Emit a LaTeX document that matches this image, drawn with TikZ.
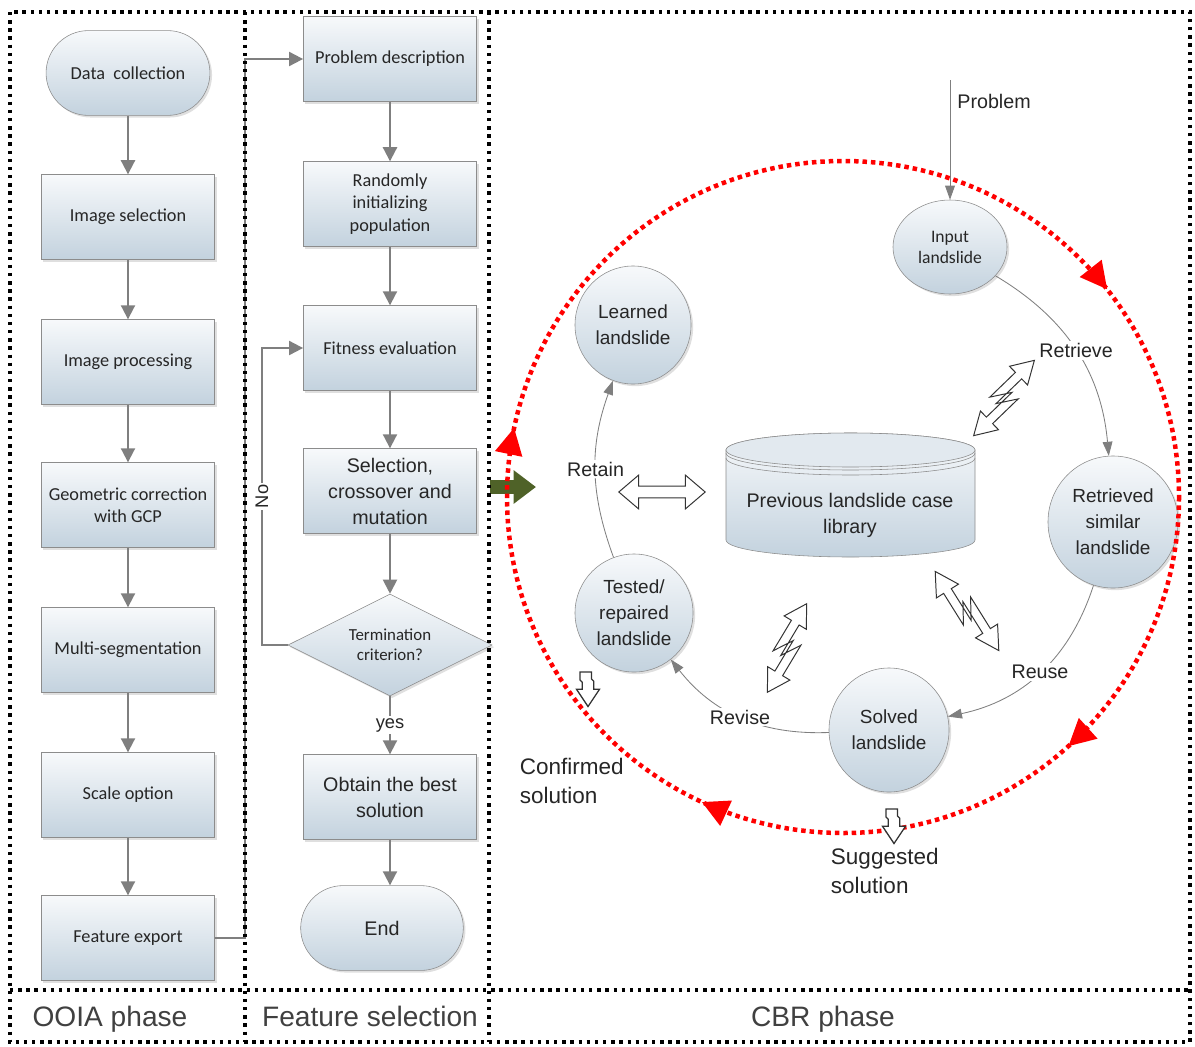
\documentclass[tikz,border=0pt]{standalone}
\usepackage{fontspec}
\setmainfont{Carlito}
\newfontfamily\arialf{Liberation Sans}
\usetikzlibrary{arrows.meta,shapes.geometric,shapes.misc,shadows,decorations.markings}

\definecolor{boxtop}{HTML}{F7F9FB}
\definecolor{boxbot}{HTML}{C3D2DE}
\definecolor{boxline}{HTML}{8C8C8C}
\definecolor{flowgray}{HTML}{7F7F7F}
\definecolor{phasegreen}{HTML}{4F6228}
\definecolor{txt}{HTML}{262626}

\tikzset{
  box/.style={draw=boxline, top color=boxtop, bottom color=boxbot,
    minimum width=4.33cm, minimum height=2.12cm, align=center, text=txt,
    font=\fontsize{13}{16}\selectfont,
    drop shadow={opacity=0.25, shadow xshift=1.5pt, shadow yshift=-1.5pt}},
  term/.style={box, rounded rectangle},
  decide/.style={box, diamond, aspect=2, minimum width=5.1cm, minimum height=2.55cm,
    inner sep=0pt, font=\fontsize{12}{14}\selectfont},
  sansbox/.style={font=\arialf\fontsize{14}{18.5}\selectfont},
  flow/.style={draw=flowgray, line width=1.4pt, -{Triangle[length=10pt,width=10pt]}},
  case/.style={box, ellipse, inner sep=0pt, font=\arialf\fontsize{13.5}{18.5}\selectfont},
  cbrflow/.style={draw=flowgray, line width=0.6pt, -{Triangle[length=10pt,width=7pt]}},
  lbl/.style={fill=white, inner sep=1.5pt, text=txt, font=\arialf\fontsize{14}{18}\selectfont},
  cbrtxt/.style={text=txt, align=left, font=\arialf\fontsize{16}{21}\selectfont},
  phase/.style={anchor=base, text=black!75, font=\arialf\fontsize{20}{24}\selectfont},
  frame/.style={line width=2.4pt, dash pattern=on 2.4pt off 3.4pt},
  hollowline/.style={draw=black!80, line width=0.7pt, fill=white},
  pics/dblarrow/.style={code={
    \draw[hollowline] (-48,#1) -- (-26,#1+13) -- (-26,#1+4.5) -- (1.6*#1,#1+4.5)
      -- (-1.6*#1,-#1+4.5) -- (26,-#1+4.5) -- (26,-#1+13) -- (48,-#1) -- (26,-#1-13)
      -- (26,-#1-4.5) -- (-1.6*#1,-#1-4.5) -- (1.6*#1,#1-4.5) -- (-26,#1-4.5)
      -- (-26,#1-13) -- cycle;
  }},
  pics/kinkdown/.style={code={
    \draw[hollowline, line width=0.9pt] (-7,0) -- (3,0) -- (3,6) -- (5,8) -- (5,15) -- (10,15)
      -- (0,30) -- (-10,15) -- (-5,15) -- (-5,9) -- (-7,7) -- cycle;
  }}
}

\begin{document}
\begin{tikzpicture}[x=0.025cm, y=-0.025cm]
  \useasboundingbox (0,0) rectangle (1195,1046);

  % OOIA phase
  \node[term] (dc) at (128,73) {Data\ \ collection};
  \node[box] (isel) at (128,217) {Image selection};
  \node[box] (iproc) at (128,362) {Image processing};
  \node[box] (geo) at (128,505) {Geometric correction\\with GCP};
  \node[box] (mseg) at (128,650) {Multi-segmentation};
  \node[box] (scale) at (128,795) {Scale option};
  \node[box] (fexp) at (128,938) {Feature export};

  % feature selection
  \node[box] (pdesc) at (390,59) {Problem description};
  \node[box] (init) at (390,204) {Randomly\\initializing\\population};
  \node[box] (fit) at (390,348) {Fitness evaluation};
  \node[box, sansbox] (sel) at (390,491) {Selection,\\crossover and\\mutation};
  \node[decide] (term) at (390,645) {Termination\\criterion?};
  \node[box, sansbox] (best) at (390,797) {Obtain the best\\solution};
  \node[term, sansbox, minimum width=4.3cm] (end) at (382,928) {End};

  \foreach \a/\b in {dc/isel,isel/iproc,iproc/geo,geo/mseg,mseg/scale,scale/fexp,
                     pdesc/init,init/fit,fit/sel,sel/term,best/end}
    \draw[flow] (\a.south) -- (\a.south |- \b.north);
  \draw[flow] (term.south) -- node[lbl, font=\arialf\fontsize{13}{16}\selectfont] {yes} (best.north);
  \draw[flow] (term.west) -- (262,645)
    -- node[lbl, rotate=90, font=\arialf\fontsize{13}{16}\selectfont] {No} (262,348) -- (fit.west);
  \coordinate (link) at (245,59);
  \draw[flow] (fexp.east) -| (link) -- (pdesc.west);

  % phase change arrow
  \coordinate (gs) at (490,487);
  \coordinate (ge) at (536,487);
  \draw[phasegreen, line width=10pt, -{Triangle[length=16pt,width=23pt]}] (gs) -- (ge);

  % CBR phase
  \draw[draw=boxline, top color=boxtop, bottom color=boxbot]
    (726,450) -- (726,540) arc[start angle=180, end angle=0, x radius=124.5, y radius=17]
    -- (975,450) arc[start angle=0, end angle=-180, x radius=124.5, y radius=17] -- cycle;
  \draw[draw=boxline, fill=boxtop!60!boxbot] (850.5,450) ellipse[x radius=124.5, y radius=17];
  \draw[draw=boxline] (726,453) arc[start angle=180, end angle=0, x radius=124.5, y radius=17];
  \draw[draw=boxline] (726,458) arc[start angle=180, end angle=0, x radius=124.5, y radius=17];
  \node[text=txt, align=center, font=\arialf\fontsize{14}{18.5}\selectfont] (db) at (850,515)
    {Previous landslide case\\library};

  \node[case, minimum width=2.85cm, minimum height=2.35cm, font=\fontsize{12.5}{15}\selectfont]
    (inp) at (950,247) {Input\\landslide};
  \node[case, minimum width=3.25cm, minimum height=3.3cm] (ret) at (1113,522)
    {Retrieved\\similar\\landslide};
  \node[case, minimum width=3.0cm, minimum height=3.1cm] (sol) at (889,730) {Solved\\landslide};
  \node[case, minimum width=2.95cm, minimum height=2.95cm] (tst) at (634,613)
    {Tested/\\repaired\\landslide};
  \node[case, minimum width=2.9cm, minimum height=2.95cm] (lrn) at (633,325) {Learned\\landslide};

  \coordinate (pin) at (950,80);
  \draw[cbrflow] (pin) -- (inp);
  \node[lbl, fill=none, anchor=west] (ptxt) at (955,101) {Problem};

  \draw[cbrflow] (inp) to[bend left=27] node[lbl] {Retrieve} (ret);
  \draw[cbrflow] (ret) to[bend left=30] node[lbl] {Reuse} (sol);
  \draw[cbrflow] (sol) to[bend left=27] node[lbl] {Revise} (tst);
  \draw[cbrflow] (tst) to[bend left=20] node[lbl] {Retain} (lrn);

  % cycle
  \coordinate (cyc) at (843,497);
  \draw[red, line width=3.2pt, dash pattern=on 3.2pt off 2.8pt,
    postaction={decorate, decoration={markings,
      mark=at position 0.133 with {\arrow{Triangle[length=19pt,width=19pt]}},
      mark=at position 0.319 with {\arrow{Triangle[length=19pt,width=19pt]}},
      mark=at position 0.533 with {\arrow{Triangle[length=19pt,width=19pt]}},
      mark=at position 0.894 with {\arrow{Triangle[length=19pt,width=19pt]}}}}]
    (cyc) circle[radius=336];

  \pic[rotate=44] at (1004,398) {dblarrow=6};
  \pic[xscale=0.9, yscale=1.3] at (662,492) {dblarrow=0};
  \pic[rotate=59] at (787,648) {dblarrow=6};
  \pic[rotate=122, xscale=1.05] at (967,611) {dblarrow=6};
  \pic[scale=1.15] at (588,672) {kinkdown};
  \pic[scale=1.15] at (894,809) {kinkdown};

  \node[cbrtxt, anchor=west] (conf) at (515,781) {Confirmed\\solution};
  \node[cbrtxt, anchor=west] (sugg) at (826,871) {Suggested\\solution};

  % phase frame
  \draw[frame] (10,12) rectangle (1190,1042);
  \draw[frame] (245,12) -- (245,1042) (489,12) -- (489,1042) (10,990) -- (1190,990);
  \node[phase] (p1) at (110,1026) {OOIA phase};
  \node[phase] (p2) at (370,1026) {Feature selection};
  \node[phase] (p3) at (823,1026) {CBR phase};
\end{tikzpicture}
\end{document}
